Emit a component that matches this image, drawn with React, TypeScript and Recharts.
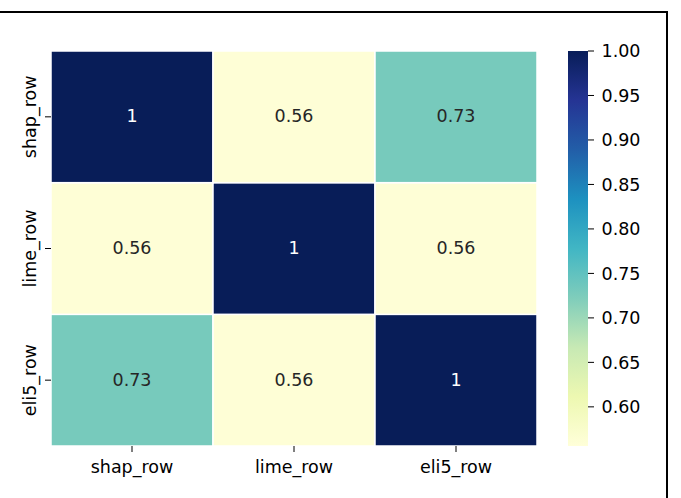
import React from 'react'
import { BarChart, Bar, XAxis, YAxis } from 'recharts'

// correlation matrix (rows top -> bottom, cols left -> right)
const labels = ['shap_row', 'lime_row', 'eli5_row']
const shapRow = [1, 0.56, 0.73]
const limeRow = [0.56, 1, 0.56]
const eli5Row = [0.73, 0.56, 1]

const colorbarTicks = [0.6, 0.65, 0.7, 0.75, 0.8, 0.85, 0.9, 0.95, 1.0]
const vmin = 0.556
const vmax = 1

// YlGnBu
const palette = ['#ffffd9', '#edf8b1', '#c7e9b4', '#7fcdbb', '#41b6c4', '#1d91c0', '#225ea8', '#253494', '#081d58']

const FONT = '"DejaVu Sans", sans-serif'
const FS = 17.5

const hex = (c: string) => [1, 3, 5].map(i => parseInt(c.slice(i, i + 2), 16))

const ylgnbu = (v: number) => {
    let t = (v - vmin) / (vmax - vmin)
    t = Math.max(0, Math.min(1, t))
    const p = t * (palette.length - 1)
    const i = Math.min(Math.floor(p), palette.length - 2)
    const f = p - i
    const a = hex(palette[i])
    const b = hex(palette[i + 1])
    const mix = a.map((x, k) => Math.round(x + (b[k] - x) * f))
    return `rgb(${mix[0]},${mix[1]},${mix[2]})`
}

const matrix: Record<string, number[]> = {
    shap_row: shapRow,
    lime_row: limeRow,
    eli5_row: eli5Row,
}

const heatData = labels.map((col, c) => ({
    col,
    shap_row: shapRow[c],
    lime_row: limeRow[c],
    eli5_row: eli5Row[c],
}))

const colorbarData = [{ name: 'cb', range: [vmin, vmax] }]

// stacked bottom -> top
const stackOrder = ['eli5_row', 'lime_row', 'shap_row']

const makeCell = (row: string) => (props: any) => {
    const { x, y, width, height, payload } = props
    const v = payload[row]
    const dark = v > 0.85
    return (
        <g>
            <rect x={x} y={y} width={width} height={height} fill={ylgnbu(v)} stroke="#fff" strokeWidth={1.5} />
            <text
                x={x + width / 2}
                y={y + height / 2 + 5.5}
                textAnchor="middle"
                fontFamily={FONT}
                fontSize={FS}
                fill={dark ? '#fff' : '#262626'}
            >
                {Number.isInteger(v) ? String(v) : v.toFixed(2)}
            </text>
        </g>
    )
}

const rowLabel = (v: number) => labels[labels.length - 1 - Math.floor(v)]

const YTick = ({ x, y, payload }: any) => {
    const cx = x - 6.6
    return (
        <text x={cx} y={y} transform={`rotate(-90, ${cx}, ${y})`} textAnchor="middle" fontFamily={FONT} fontSize={FS} fill="#000">
            {rowLabel(payload.value)}
        </text>
    )
}

const XTick = ({ x, y, payload }: any) => (
    <text x={x} y={y + 19} textAnchor="middle" fontFamily={FONT} fontSize={FS} fill="#000">
        {payload.value}
    </text>
)

const CbTick = ({ x, y, payload }: any) => (
    <text x={x} y={y + 6.4} textAnchor="start" fontFamily={FONT} fontSize={FS} fill="#000">
        {payload.value.toFixed(2)}
    </text>
)

export default function App() {
    return (
        <div style={{ position: 'absolute', left: 0, top: 0, width: 681, height: 498, background: '#fff', overflow: 'hidden' }}>
            <div style={{ position: 'absolute', left: 0, top: 0 }}>
                <BarChart
                    width={560}
                    height={498}
                    data={heatData}
                    margin={{ top: 51, right: 23, left: 6, bottom: 7 }}
                    barCategoryGap={0}
                    barGap={0}
                >
                    <XAxis
                        dataKey="col"
                        type="category"
                        axisLine={false}
                        tickSize={6}
                        tickMargin={2}
                        height={45}
                        tickLine={{ stroke: '#000', strokeWidth: 1 }}
                        tick={<XTick />}
                        interval={0}
                    />
                    <YAxis
                        type="number"
                        domain={[0, 3]}
                        ticks={[0.5, 1.5, 2.5]}
                        allowDataOverflow
                        axisLine={false}
                        tickSize={6}
                        tickMargin={2}
                        width={45}
                        tickLine={{ stroke: '#000', strokeWidth: 1 }}
                        tick={<YTick />}
                        interval={0}
                    />
                    {stackOrder.map(row => (
                        <Bar
                            key={row}
                            dataKey={() => 1}
                            name={row}
                            stackId="m"
                            isAnimationActive={false}
                            shape={makeCell(row)}
                        />
                    ))}
                </BarChart>
            </div>
            <div style={{ position: 'absolute', left: 568, top: 0 }}>
                <BarChart
                    width={113}
                    height={498}
                    data={colorbarData}
                    margin={{ top: 51, right: 0, left: 0, bottom: 52 }}
                    barCategoryGap={0}
                >
                    <defs>
                        <linearGradient id="cbGrad" x1="0" y1="1" x2="0" y2="0">
                            {palette.map((c, i) => (
                                <stop key={c} offset={`${(i / (palette.length - 1)) * 100}%`} stopColor={c} />
                            ))}
                        </linearGradient>
                    </defs>
                    <XAxis dataKey="name" hide />
                    <YAxis
                        orientation="right"
                        type="number"
                        domain={[vmin, vmax]}
                        ticks={colorbarTicks}
                        allowDataOverflow
                        axisLine={false}
                        tickSize={6}
                        tickMargin={7.5}
                        width={93}
                        tickLine={{ stroke: '#000', strokeWidth: 1 }}
                        tick={<CbTick />}
                        interval={0}
                    />
                    <Bar dataKey="range" fill="url(#cbGrad)" isAnimationActive={false} />
                </BarChart>
            </div>
            <div
                style={{
                    position: 'absolute',
                    left: 0,
                    top: 11,
                    width: 665.5,
                    height: 500,
                    borderTop: '2px solid #000',
                    borderRight: '2px solid #000',
                }}
            />
        </div>
    )
}
